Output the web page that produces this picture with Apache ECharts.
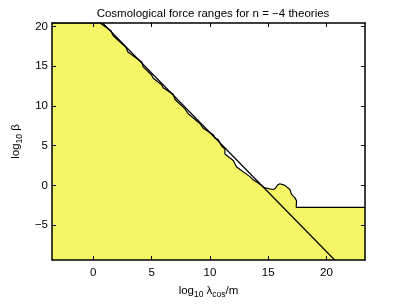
<!DOCTYPE html>
<html><head><meta charset="utf-8">
<script src="https://cdn.jsdelivr.net/npm/echarts@6/dist/echarts.min.js"></script>
<style>html,body{margin:0;padding:0;background:#fff}#c{width:403px;height:304px}</style>
</head><body><div id="c"></div>
<script>
// Boundary of the allowed (yellow) region: log10 lambda_cos/m vs log10 beta
const boundaryX = [-3.54, 0.57, 1.52, 1.69, 2.80, 2.97, 4.15, 4.28, 5.00, 5.14, 5.86, 6.00, 6.86, 7.00, 7.86, 8.14, 9.14, 9.43, 10.28, 10.43, 10.71, 11.00, 11.29, 11.29, 12.00, 12.29, 13.43, 13.71, 14.14, 14.71, 15.42, 15.60, 15.80, 16.00, 16.43, 16.86, 17.00, 17.28, 17.43, 17.40, 23.3];
const boundaryY = [20.45, 20.45, 19.48, 18.87, 17.40, 16.79, 15.54, 14.93, 13.90, 13.50, 12.68, 12.28, 11.46, 10.85, 9.63, 9.02, 7.80, 7.20, 6.39, 5.98, 5.78, 4.96, 4.56, 3.95, 3.13, 2.32, 1.10, 0.70, 0.29, -0.32, -0.52, -0.40, 0.05, 0.20, 0.00, -0.52, -1.13, -1.54, -1.95, -2.76, -2.76];
// Straight reference line
const refX = [0.80, 20.70];
const refY = [20.45, -9.4];
const xTicks = [0, 5, 10, 15, 20];
const yTicks = [-5, 0, 5, 10, 15, 20];

const xMin = -3.54, xMax = 23.3, yMin = -9.4, yMax = 20.45;
const font = 'Liberation Sans, Arial, sans-serif';
const fmt = v => String(v).replace('-', '\u2212');

const chart = echarts.init(document.getElementById('c'), null, {renderer: 'canvas'});
const mkX = (pos, show) => ({
  type: 'value', position: pos, min: xMin, max: xMax, z: 10,
  axisLine: {show: true, onZero: false, lineStyle: {color: '#000', width: 1.5}},
  axisTick: {show: true, inside: true, length: 4, customValues: xTicks, lineStyle: {color: '#000', width: 1}},
  axisLabel: {show: show, customValues: xTicks, formatter: fmt, color: '#000', fontFamily: font, fontSize: 11.5, margin: 7},
  splitLine: {show: false},
  name: show ? '{a|log}{s|10}{a| \u03bb}{s|cos}{a|/m}' : '',
  nameLocation: 'middle', nameGap: 22,
  nameTextStyle: {rich: {a: {fontFamily: font, fontSize: 11.5, color: '#000'}, s: {fontFamily: font, fontSize: 8.5, color: '#000', padding: [8, 0, 0, 0]}}}
});
const mkY = (pos, show) => ({
  type: 'value', position: pos, min: yMin, max: yMax, z: 10,
  axisLine: {show: true, onZero: false, lineStyle: {color: '#000', width: 1.5}},
  axisTick: {show: true, inside: true, length: 4, customValues: yTicks, lineStyle: {color: '#000', width: 1}},
  axisLabel: {show: show, customValues: yTicks, formatter: fmt, color: '#000', fontFamily: font, fontSize: 11.5, margin: 4},
  splitLine: {show: false},
  name: show ? '{a|log}{s|10}{a| \u03b2}' : '',
  nameLocation: 'middle', nameGap: 27, nameRotate: 90,
  nameTextStyle: {rich: {a: {fontFamily: font, fontSize: 11.5, color: '#000'}, s: {fontFamily: font, fontSize: 8.5, color: '#000', padding: [8, 0, 0, 0]}}}
});

chart.setOption({
  animation: false,
  backgroundColor: '#fff',
  title: {text: 'Cosmological force ranges for n = \u22124 theories', left: 208, top: 3, textAlign: 'center',
    textStyle: {fontFamily: font, fontSize: 11.5, fontWeight: 'normal', color: '#000'}},
  grid: {left: 52, right: 38, top: 23, bottom: 36},
  xAxis: [mkX('bottom', true), mkX('top', false)],
  yAxis: [mkY('left', true), mkY('right', false)],
  series: [
    {type: 'line', data: boundaryX.map((x, i) => [x, boundaryY[i]]), showSymbol: false, symbol: 'none',
     lineStyle: {color: '#000', width: 1.2}, areaStyle: {color: '#f5f565', opacity: 1, origin: 'start'}, z: 2},
    {type: 'line', data: refX.map((x, i) => [x, refY[i]]), showSymbol: false, symbol: 'none',
     lineStyle: {color: '#000', width: 1.2}, z: 3}
  ]
});
</script></body></html>
